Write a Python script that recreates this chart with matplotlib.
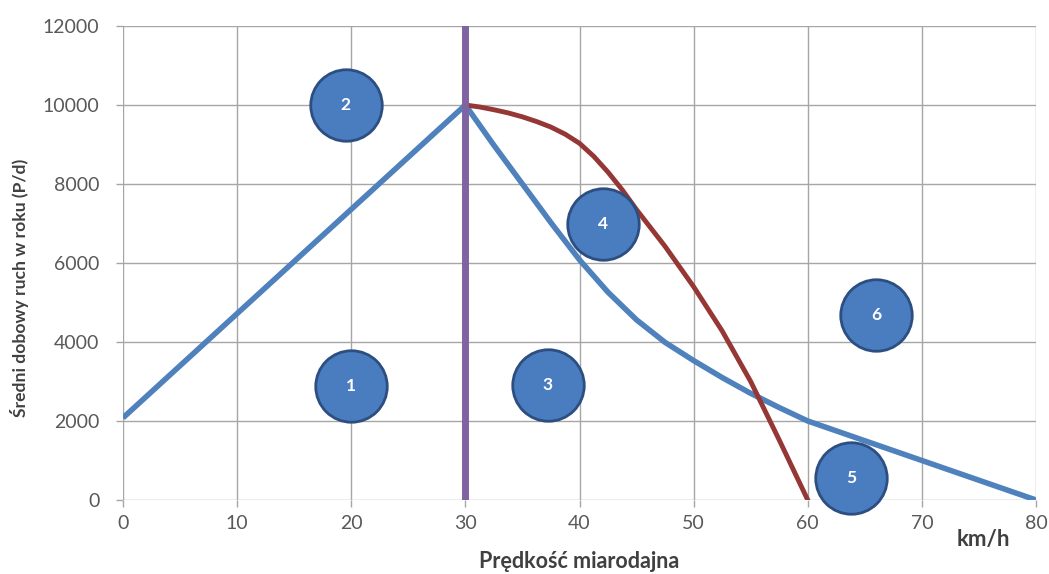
import matplotlib
matplotlib.use("Agg")
import matplotlib.pyplot as plt

# ---- data ----
x_up = [0, 30]
y_up = [2080, 10000]

x_blue = [30, 32.5, 35, 37.5, 40, 42.5, 45, 47.5, 50, 52.5, 55, 57.5, 60, 62.5, 65, 67.5, 70, 72.5, 75, 77.5, 80]
y_blue = [10000, 8980, 8000, 7020, 6080, 5260, 4560, 3990, 3530, 3100, 2700, 2340, 2000, 1750, 1500, 1250, 1000, 750, 500, 250, 0]

x_red = [30, 31.25, 32.5, 33.75, 35, 36.25, 37.5, 38.75, 40, 41.25, 42.5, 43.75, 45, 47.5, 50, 52.5, 55, 57.5, 60]
y_red = [10000, 9950, 9880, 9800, 9700, 9580, 9440, 9260, 9030, 8700, 8300, 7850, 7350, 6420, 5400, 4280, 3000, 1520, 0]

x_vline = 30

zone_labels = ["1", "2", "3", "4", "5", "6"]
zone_x = [20.0, 19.5, 37.2, 42.1, 63.8, 66.0]
zone_y = [2890, 10000, 2920, 6990, 560, 4690]

x_ticks = [0, 10, 20, 30, 40, 50, 60, 70, 80]
y_ticks = [0, 2000, 4000, 6000, 8000, 10000, 12000]

font = ["Lato", "DejaVu Sans"]
plt.rcParams["font.family"] = font

W, H = 1049, 574
fig = plt.figure(figsize=(W / 100, H / 100), dpi=100)
ax = fig.add_axes([123 / W, 1 - 500 / H, (1036 - 123) / W, (500 - 26) / H])

ax.set_xlim(0, 80)
ax.set_ylim(0, 12000)
ax.set_xticks(x_ticks)
ax.set_yticks(y_ticks)
ax.grid(True, color="#a6a6a6", linewidth=1.0)
ax.set_axisbelow(True)
for s in ax.spines.values():
    s.set_visible(False)
ax.tick_params(axis="both", colors="#a6a6a6", length=5, width=1.0,
               labelcolor="#595959", labelsize=14)
ax.tick_params(axis="x", pad=6)
ax.tick_params(axis="y", pad=12)

ax.plot(x_up, y_up, color="#4f81bd", linewidth=4, solid_capstyle="butt", zorder=3)
ax.plot(x_blue, y_blue, color="#4f81bd", linewidth=4, solid_joinstyle="round", zorder=3)
ax.plot(x_red, y_red, color="#953735", linewidth=3.5, solid_joinstyle="round", zorder=3)
ax.axvline(x_vline, color="#8064a2", linewidth=5, zorder=4)

ax.scatter(zone_x, zone_y, s=2650, facecolor="#4a7cc0", edgecolor="#2c4e80",
           linewidth=2, zorder=5, clip_on=False)
for lab, zx, zy in zip(zone_labels, zone_x, zone_y):
    ax.text(zx, zy, lab, ha="center", va="center", color="white",
            fontsize=12.5, fontweight="bold", zorder=6)

fig.text(579 / W, 1 - 561 / H, "Prędkość miarodajna", ha="center", va="center",
         fontsize=15.5, fontweight="bold", color="#404040")
fig.text(20 / W, 1 - 288 / H, "Średni dobowy ruch w roku (P/d)", ha="center",
         va="center", rotation=90, fontsize=12.6, fontweight="bold", color="#404040")
ax.text(75.4, -1010, "km/h", ha="center", va="center", fontsize=16,
        fontweight="bold", color="#404040")

fig.savefig("out.png", dpi=100)
